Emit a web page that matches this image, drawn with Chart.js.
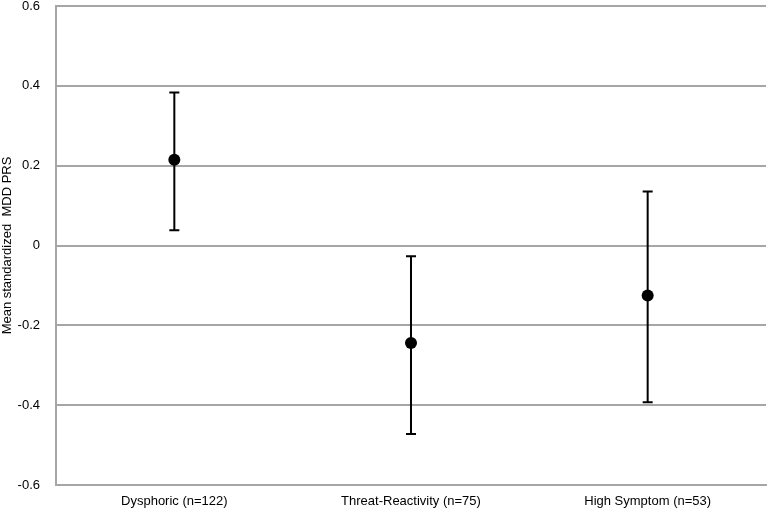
<!DOCTYPE html>
<html>
<head>
<meta charset="utf-8">
<script src="https://cdn.jsdelivr.net/npm/chart.js@4"></script>
<style>
  html, body { margin: 0; padding: 0; background: #fff; }
  #wrap { width: 767px; height: 509px; }
</style>
</head>
<body>
<div id="wrap"><canvas id="chart"></canvas></div>
<script>
// groups and their sample sizes
const categories = ['Dysphoric (n=122)', 'Threat-Reactivity (n=75)', 'High Symptom (n=53)'];
// mean standardized MDD PRS
const means = [0.215, -0.244, -0.125];
// error bar ends
const lowers = [0.038, -0.472, -0.393];
const uppers = [0.383, -0.027, 0.135];
// y axis ticks
const yTicks = [-0.6, -0.4, -0.2, 0, 0.2, 0.4, 0.6];

// draws the error bars under the points
const errorBars = {
    id: 'errorBars',
    beforeDatasetsDraw(chart) {
        const { ctx, scales: { x, y } } = chart;
        ctx.save();
        ctx.strokeStyle = '#000';
        ctx.lineWidth = 2;
        categories.forEach((c, i) => {
            const px = x.getPixelForValue(i);
            const top = y.getPixelForValue(uppers[i]);
            const bot = y.getPixelForValue(lowers[i]);
            ctx.beginPath();
            ctx.moveTo(px, top);
            ctx.lineTo(px, bot);
            ctx.moveTo(px - 5, top);
            ctx.lineTo(px + 5, top);
            ctx.moveTo(px - 5, bot);
            ctx.lineTo(px + 5, bot);
            ctx.stroke();
        });
        ctx.restore();
    }
};

Chart.defaults.font.family = '"Liberation Sans", Arial, sans-serif';
Chart.defaults.font.size = 13;
Chart.defaults.color = '#000';

new Chart(document.getElementById('chart'), {
    type: 'line',
    data: {
        labels: categories,
        datasets: [{
            data: means,
            showLine: false,
            pointRadius: 6,
            pointHoverRadius: 6,
            pointBackgroundColor: '#000',
            pointBorderColor: '#000',
            pointBorderWidth: 0
        }]
    },
    options: {
        responsive: true,
        maintainAspectRatio: false,
        animation: false,
        layout: { autoPadding: false, padding: { top: 6, right: 1, left: 0, bottom: 0 } },
        plugins: {
            legend: { display: false },
            tooltip: { enabled: false }
        },
        scales: {
            x: {
                type: 'category',
                offset: true,
                grid: { display: false, drawTicks: false },
                border: { display: true, color: '#a6a6a6', width: 2 },
                ticks: { padding: 9, font: { size: 13 } },
                afterFit(scale) {
                    scale.height = 24;
                    scale.paddingLeft = 0;
                    scale.paddingRight = 0;
                }
            },
            y: {
                min: -0.6,
                max: 0.6,
                afterBuildTicks(scale) {
                    scale.ticks = yTicks.map(v => ({ value: v }));
                },
                ticks: {
                    padding: 16,
                    callback: v => (v === 0 ? '0' : v.toFixed(1))
                },
                grid: { color: '#a6a6a6', lineWidth: 2, drawTicks: false },
                border: { display: true, color: '#a6a6a6', width: 2 },
                title: {
                    display: true,
                    text: 'Mean standardized  MDD PRS',
                    font: { size: 13 },
                    padding: 0
                },
                afterFit(scale) {
                    scale.width = 56;
                    scale.paddingTop = 0;
                    scale.paddingBottom = 0;
                }
            }
        }
    },
    plugins: [errorBars]
});
</script>
</body>
</html>
